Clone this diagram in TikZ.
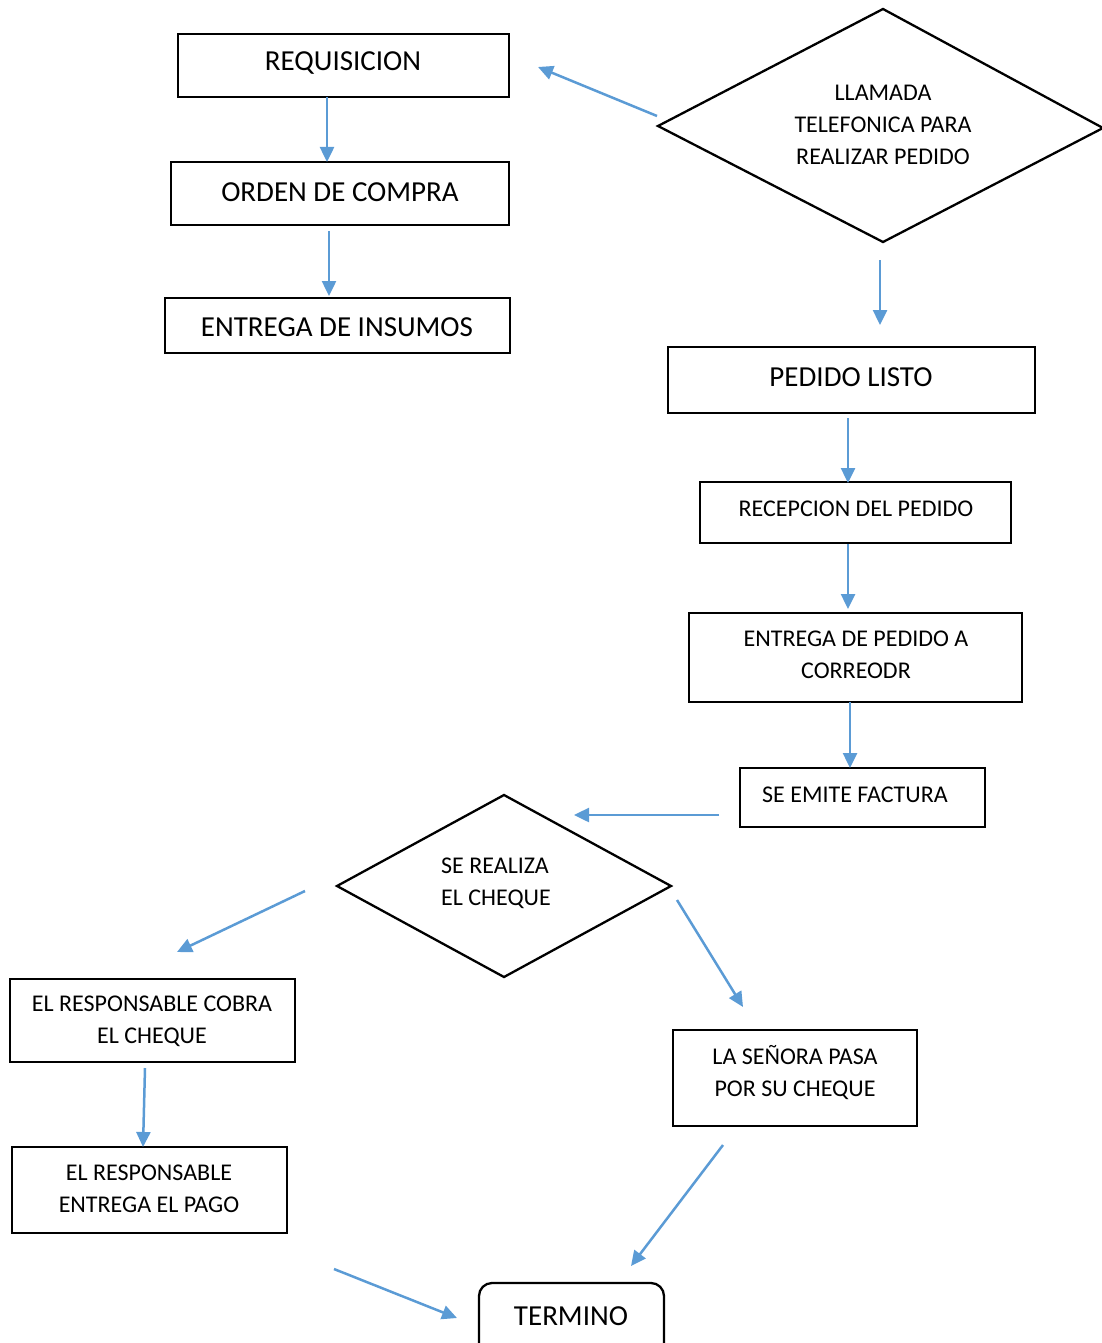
\documentclass[tikz,border=0pt]{standalone}
\usepackage{fontspec}
\setmainfont{Carlito}
\usetikzlibrary{arrows.meta}
\definecolor{arrowblue}{HTML}{5B9BD5}
\begin{document}
\begin{tikzpicture}[x=1pt,y=-1pt,
  box/.style={draw=black, line width=2.3pt, inner sep=0pt, outer sep=0pt},
  small/.style={font=\fontsize{24}{32}\selectfont, align=center, inner sep=0pt},
  big/.style={font=\fontsize{29}{35}\selectfont, align=center, inner sep=0pt},
  flow/.style={draw=arrowblue, line width=2.5pt, -{Triangle[length=15pt,width=14pt]}},
  shapeline/.style={draw=black, line width=2.3pt, line join=miter}
]
\useasboundingbox (0,0) rectangle (1101,1343);

% boxes
\node[box,minimum width=331,minimum height=63] (req) at (343.5,65.5) {};
\node[big] (reqt) at (343,63) {REQUISICION};
\node[box,minimum width=338,minimum height=63] (oc) at (340,193.5) {};
\node[big] (oct) at (340,192) {ORDEN DE COMPRA};
\node[box,minimum width=345,minimum height=55] (ins) at (337.5,325.5) {};
\node[big] (inst) at (337,327) {ENTREGA DE INSUMOS};
\node[box,minimum width=367,minimum height=66] (pl) at (851.5,380) {};
\node[big] (plt) at (851,377) {PEDIDO LISTO};
\node[box,minimum width=311,minimum height=61] (rec) at (855.5,512.5) {};
\node[small] (rect) at (856,509) {RECEPCION DEL PEDIDO};
\node[box,minimum width=333,minimum height=89] (ent) at (855.5,657.5) {};
\node[small] (entt) at (856,655) {ENTREGA DE PEDIDO A\\CORREODR};
\node[box,minimum width=245,minimum height=59] (fac) at (862.5,797.5) {};
\node[small] (fact) at (855,795) {SE EMITE FACTURA};
\node[box,minimum width=285,minimum height=83] (cob) at (152.5,1020.5) {};
\node[small] (cobt) at (152,1021) {EL RESPONSABLE COBRA\\EL CHEQUE};
\node[box,minimum width=275,minimum height=86] (pag) at (149.5,1190) {};
\node[small] (pagt) at (149,1189) {EL RESPONSABLE\\ENTREGA EL PAGO};
\node[box,minimum width=244,minimum height=96] (sen) at (795,1078) {};
\node[small] (sent) at (795,1073) {LA SEÑORA PASA\\POR SU CHEQUE};
\draw[shapeline, rounded corners=13pt] (479,1283) rectangle (664,1365);
\node[big] (ter) at (571,1316) {TERMINO};

% diamonds
\coordinate (d1t) at (883,9);
\coordinate (d1l) at (658,126);
\coordinate (d1b) at (883,242);
\coordinate (d1r) at (1103,128);
\draw[shapeline] (d1t) -- (d1r) -- (d1b) -- (d1l) -- cycle;
\node[small] (llam) at (883,125) {LLAMADA\\TELEFONICA PARA\\REALIZAR PEDIDO};

\coordinate (d2t) at (504,795);
\coordinate (d2l) at (337,886);
\coordinate (d2b) at (504,977);
\coordinate (d2r) at (671,886);
\draw[shapeline] (d2t) -- (d2r) -- (d2b) -- (d2l) -- cycle;
\node[small,align=left] (chq) at (496,883) {SE REALIZA\\EL CHEQUE};

% arrow end points
\coordinate (a1s) at (657,116); \coordinate (a1e) at (538,67);
\coordinate (a2s) at (327,97);  \coordinate (a2e) at (327,162);
\coordinate (a3s) at (329,231); \coordinate (a3e) at (329,296);
\coordinate (a4s) at (880,260); \coordinate (a4e) at (880,325);
\coordinate (a5s) at (848,418); \coordinate (a5e) at (848,483);
\coordinate (a6s) at (848,544); \coordinate (a6e) at (848,609);
\coordinate (a7s) at (850,702); \coordinate (a7e) at (850,768);
\coordinate (a8s) at (719,815); \coordinate (a8e) at (574,815);
\coordinate (a9s) at (305,891); \coordinate (a9e) at (177,952);
\coordinate (a10s) at (677,900); \coordinate (a10e) at (743,1007);
\coordinate (a11s) at (145,1068); \coordinate (a11e) at (143,1147);
\coordinate (a12s) at (723,1145); \coordinate (a12e) at (631,1266);
\coordinate (a13s) at (334,1269); \coordinate (a13e) at (457,1318);

\foreach \i in {1,...,13} \draw[flow] (a\i s) -- (a\i e);
\end{tikzpicture}
\end{document}
